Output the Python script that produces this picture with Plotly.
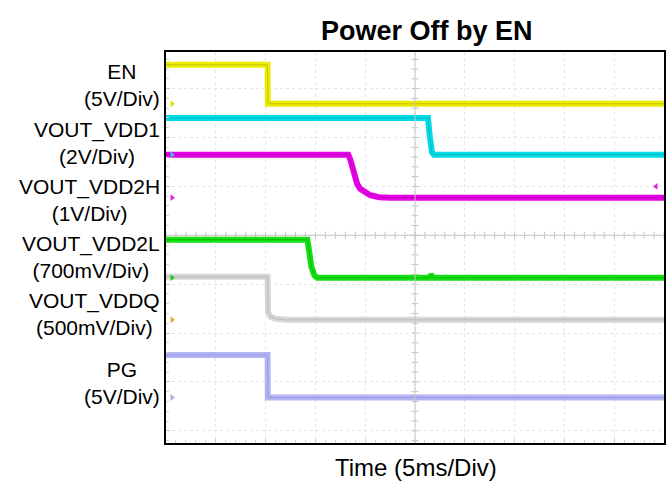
import plotly.graph_objects as go

# ---- data (time in ms, level in screen divisions; 0 = centre line) ----
en_t = [0, 10.2, 10.22, 50]
en_v = [3.49, 3.49, 2.69, 2.69]

vdd1_t = [0, 26.3, 26.5, 26.7, 26.9, 50]
vdd1_v = [2.40, 2.40, 2.00, 1.70, 1.65, 1.65]

vdd2h_t = [0, 18.3, 18.5, 18.7, 18.9, 19.2, 19.5, 20.0, 20.5, 21.4, 22.5, 50]
vdd2h_v = [1.65, 1.65, 1.55, 1.42, 1.20, 1.05, 0.95, 0.87, 0.82, 0.78, 0.77, 0.77]

vdd2l_t = [0, 14.2, 14.35, 14.6, 14.9, 15.2, 26.5, 26.6, 26.8, 50]
vdd2l_v = [-0.09, -0.09, -0.30, -0.65, -0.82, -0.87, -0.87, -0.80, -0.87, -0.87]

vddq_t = [0, 10.2, 10.25, 10.5, 11.0, 12.0, 50]
vddq_v = [-0.85, -0.85, -1.58, -1.67, -1.71, -1.73, -1.73]

pg_t = [0, 10.2, 10.22, 50]
pg_v = [-2.45, -2.45, -3.32, -3.32]

channel_names = ["EN", "VOUT_VDD1", "VOUT_VDD2H", "VOUT_VDD2L", "VOUT_VDDQ", "PG"]
channel_scales = ["(5V/Div)", "(2V/Div)", "(1V/Div)", "(700mV/Div)", "(500mV/Div)", "(5V/Div)"]
label_y_px = [84.5, 142.5, 199.5, 256.5, 314, 383]

# ground-reference markers (level in divisions)
marker_levels = [2.69, 1.65, 0.77, -0.87, -1.73, -3.32]
marker_colors = ["#e0e000", "#40c0e0", "#e020e0", "#20d020", "#e0b040", "#b0b0f0"]

title_text = "Power Off by EN"
xlabel_text = "Time (5ms/Div)"

# ---- figure ----
W, H = 672, 489
L, T = 166, 52
PW, PH = 500, 391
R = W - L - PW
B = H - T - PH


def px(xp):
    return (xp - L) / PW


def py(yp):
    return (H - B - yp) / PH


fig = go.Figure()

# centre cross tick marks
fig.add_trace(go.Scatter(x=[i * 1.0 for i in range(51)], y=[0] * 51, mode="markers",
                         marker=dict(symbol="line-ns-open", size=5, color="#c4c4c4", line=dict(width=1)),
                         hoverinfo="skip", showlegend=False))
ys = [-4.2 + 0.2 * i for i in range(40)]
fig.add_trace(go.Scatter(x=[25] * len(ys), y=ys, mode="markers",
                         marker=dict(symbol="line-ew-open", size=5, color="#c4c4c4", line=dict(width=1)),
                         hoverinfo="skip", showlegend=False))

traces = [
    (en_t, en_v, "#ecec00", "#a8a800"),
    (vdd1_t, vdd1_v, "#00dce6", "#0098a8"),
    (vdd2h_t, vdd2h_v, "#e600e6", "#a000a8"),
    (vdd2l_t, vdd2l_v, "#14e014", "#00a000"),
    (vddq_t, vddq_v, "#d6d6d6", "#a8a8a8"),
    (pg_t, pg_v, "#b4b4f2", "#8888d4"),
]
for t, v, c, dc in traces:
    fig.add_trace(go.Scatter(x=t, y=v, mode="lines", line=dict(color=c, width=6),
                             hoverinfo="skip", showlegend=False))
    fig.add_trace(go.Scatter(x=t, y=v, mode="lines", line=dict(color=dc, width=1),
                             opacity=0.55, hoverinfo="skip", showlegend=False))

fig.add_trace(go.Scatter(x=[0.6] * len(marker_levels), y=marker_levels, mode="markers",
                         marker=dict(symbol="triangle-right", size=6, color=marker_colors),
                         hoverinfo="skip", showlegend=False))
fig.add_trace(go.Scatter(x=[49.2], y=[1.0], mode="markers",
                         marker=dict(symbol="triangle-left", size=6, color="#e020e0"),
                         hoverinfo="skip", showlegend=False))

fig.add_shape(type="line", x0=25, x1=25, y0=0, y1=1, xref="x", yref="paper",
              line=dict(color="#c8c8c8", width=1))
fig.add_shape(type="line", x0=0, x1=1, y0=0, y1=0, xref="paper", yref="y",
              line=dict(color="#c8c8c8", width=1))

font = "Arial, Liberation Sans, sans-serif"
for name, sc, yp in zip(channel_names, channel_scales, label_y_px):
    fig.add_annotation(text=name + "<br>" + sc, xref="paper", yref="paper",
                       x=px(162), y=py(yp), xanchor="right", yanchor="middle",
                       align="center", showarrow=False,
                       font=dict(family=font, size=21, color="black"))

fig.add_annotation(text="<b>" + title_text + "</b>", xref="paper", yref="paper",
                   x=px(428), y=py(31), xanchor="center", yanchor="middle",
                   showarrow=False, font=dict(family=font, size=27, color="black"))
fig.add_annotation(text=xlabel_text, xref="paper", yref="paper",
                   x=px(417), y=py(467), xanchor="center", yanchor="middle",
                   showarrow=False, font=dict(family=font, size=24, color="black"))

fig.update_xaxes(range=[0, 50], dtick=5, showgrid=True, gridcolor="#e6e6e6", griddash="dot",
                 gridwidth=1, zeroline=False, showticklabels=False,
                 ticks="inside", ticklen=4, tickcolor="#cccccc",
                 minor=dict(dtick=1, ticks="inside", ticklen=3, tickcolor="#d6d6d6", showgrid=False),
                 showline=True, linecolor="black", linewidth=2, mirror=True)
fig.update_yaxes(range=[-4.25, 3.75], dtick=1, tick0=0, showgrid=True, gridcolor="#e6e6e6",
                 griddash="dot", gridwidth=1, zeroline=False, showticklabels=False,
                 ticks="inside", ticklen=4, tickcolor="#cccccc",
                 minor=dict(dtick=0.2, ticks="inside", ticklen=3, tickcolor="#d6d6d6", showgrid=False),
                 showline=True, linecolor="black", linewidth=2, mirror=True)

fig.update_layout(width=W, height=H, margin=dict(l=L, r=R, t=T, b=B, pad=0),
                  paper_bgcolor="white", plot_bgcolor="white", showlegend=False)

page_reset = ("document.body.style.margin='0';"
              "document.body.style.overflow='hidden';"
              "document.documentElement.style.overflow='hidden';")
fig.write_html("out.html", post_script=page_reset, config={"displayModeBar": False})
